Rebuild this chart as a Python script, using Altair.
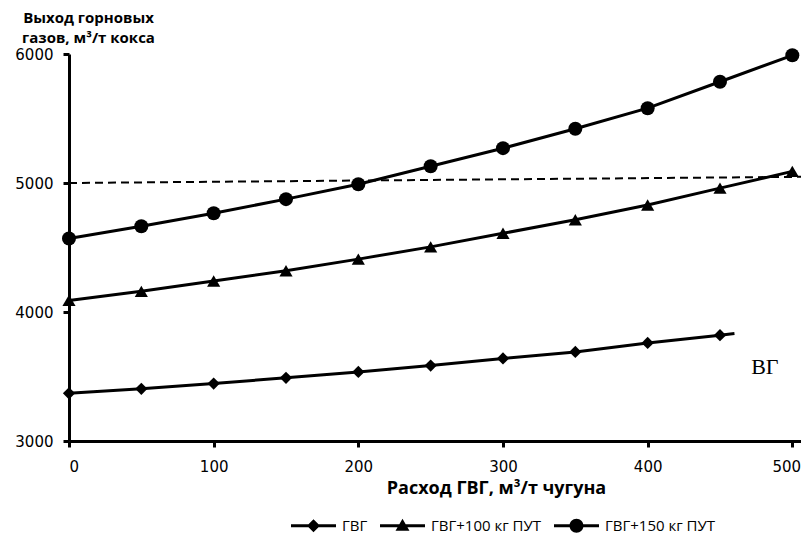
import altair as alt
import pandas as pd

# ---- data ----
series_names = ["ГВГ", "ГВГ+100 кг ПУТ", "ГВГ+150 кг ПУТ"]
x_main = [0, 50, 100, 150, 200, 250, 300, 350, 400, 450, 500]
gvg_x = [0, 50, 100, 150, 200, 250, 300, 350, 400, 450]
gvg_y = [3370, 3405, 3445, 3490, 3535, 3585, 3640, 3690, 3760, 3820]
gvg_end_x = 460
gvg_end_y = 3833
tri_y = [4090, 4160, 4240, 4320, 4410, 4505, 4610, 4715, 4830, 4960, 5090]
circ_y = [4570, 4665, 4765, 4875, 4990, 5130, 5270, 5420, 5580, 5785, 5990]
limit_x = [0, 506]
limit_y = [5000, 5048]
note_text = ["ВГ"]
note_x = [481]
note_y = [3574]
x_ticks = [0, 100, 200, 300, 400, 500]
y_ticks = [3000, 4000, 5000, 6000]

# ---- tables ----
rows = []
for x, y in zip(gvg_x, gvg_y):
    rows.append({"x": x, "y": y, "series": series_names[0], "marker": True})
rows.append({"x": gvg_end_x, "y": gvg_end_y, "series": series_names[0], "marker": False})
for x, y in zip(x_main, tri_y):
    rows.append({"x": x, "y": y, "series": series_names[1], "marker": True})
for x, y in zip(x_main, circ_y):
    rows.append({"x": x, "y": y, "series": series_names[2], "marker": True})
df = pd.DataFrame(rows)
df["legend"] = df["series"]
pts = df[df["marker"]]

limit_df = pd.DataFrame({"x": limit_x, "y": limit_y})
note_df = pd.DataFrame({"x": note_x, "y": note_y, "t": note_text})

xscale = alt.Scale(domain=[0, 506], nice=False, zero=False)
yscale = alt.Scale(domain=[3000, 6000], nice=False, zero=False)

xaxis = alt.Axis(
    values=x_ticks, format="d", title="Расход ГВГ, м³/т чугуна", titleX=427, titleY=47,
    titleBaseline="middle", titleAlign="center", titleFont="Open Sans",
    titleFontSize=18, titleFontWeight="bold", titleColor="black",
    labelPadding=12,
    labelOffset={"condition": {"test": "datum.value === 500", "value": -6}, "value": 0},
)
yaxis = alt.Axis(
    values=y_ticks, format="d", title=["Выход горновых", "газов, м³/т кокса"], titleAngle=0,
    titleX=19, titleY=-44, titleAlign="center", titleBaseline="top",
    titleFont="Open Sans", titleFontSize=15, titleFontWeight="bold",
    titleColor="black", titleLineHeight=20, labelPadding=10,
)

base = alt.Chart(df)

lines = base.mark_line(color="black", strokeWidth=3).encode(
    x=alt.X("x:Q", scale=xscale, axis=xaxis),
    y=alt.Y("y:Q", scale=yscale, axis=yaxis),
    detail="series:N",
    order="x:Q",
)

points = alt.Chart(pts).mark_point(filled=True, color="black", opacity=1).encode(
    x=alt.X("x:Q", scale=xscale),
    y=alt.Y("y:Q", scale=yscale),
    shape=alt.Shape("series:N", scale=alt.Scale(domain=series_names,
                    range=["diamond", "triangle-up", "circle"]), legend=None),
    size=alt.Size("series:N", scale=alt.Scale(domain=series_names,
                  range=[150, 196, 225]), legend=None),
)

line_part = "M-1,-0.07H1V0.07H-1Z"
diamond_p = line_part + "M0,-0.29L0.29,0L0,0.29L-0.29,0Z"
tri_p = line_part + "M0,-0.31L0.31,0.22L-0.31,0.22Z"
circ_p = line_part + "M-0.31,0A0.31,0.31 0 1,1 0.31,0A0.31,0.31 0 1,1 -0.31,0Z"

legend_layer = alt.Chart(pts).mark_point(filled=True, color="black", opacity=0).encode(
    x=alt.X("x:Q", scale=xscale),
    y=alt.Y("y:Q", scale=yscale),
    shape=alt.Shape("legend:N", scale=alt.Scale(domain=series_names,
                    range=[diamond_p, tri_p, circ_p]),
                    legend=alt.Legend(
                        title=None, orient="none", legendX=222, legendY=449,
                        direction="horizontal", symbolSize=2025,
                        symbolFillColor="black", symbolStrokeColor="black",
                        symbolStrokeWidth=0, symbolOpacity=1,
                        labelFont="Open Sans", labelFontSize=15,
                        labelColor="black", labelOffset=6, columnPadding=12,
                        padding=0,
                    )),
)

limit = alt.Chart(limit_df).mark_line(color="black", strokeWidth=2, strokeDash=[8, 5]).encode(
    x=alt.X("x:Q", scale=xscale),
    y=alt.Y("y:Q", scale=yscale),
)

note = alt.Chart(note_df).mark_text(font="Liberation Serif", fontSize=22,
                                    color="black", align="center",
                                    baseline="middle").encode(
    x=alt.X("x:Q", scale=xscale),
    y=alt.Y("y:Q", scale=yscale),
    text="t:N",
)

chart = alt.layer(limit, lines, points, legend_layer, note).resolve_scale(
    shape="independent"
).properties(
    width=732, height=387,
    autosize=alt.AutoSizeParams(type="none"),
    padding={"left": 61, "top": 46, "right": 0, "bottom": 93},
).configure_view(stroke=None).configure_axis(
    grid=False, domainColor="black", domainWidth=3, tickColor="black",
    tickWidth=3, tickSize=6, labelFont="DejaVu Sans", labelFontSize=15,
    labelColor="black",
)

chart.save("out.html", embed_options={"renderer": "svg", "actions": False})
